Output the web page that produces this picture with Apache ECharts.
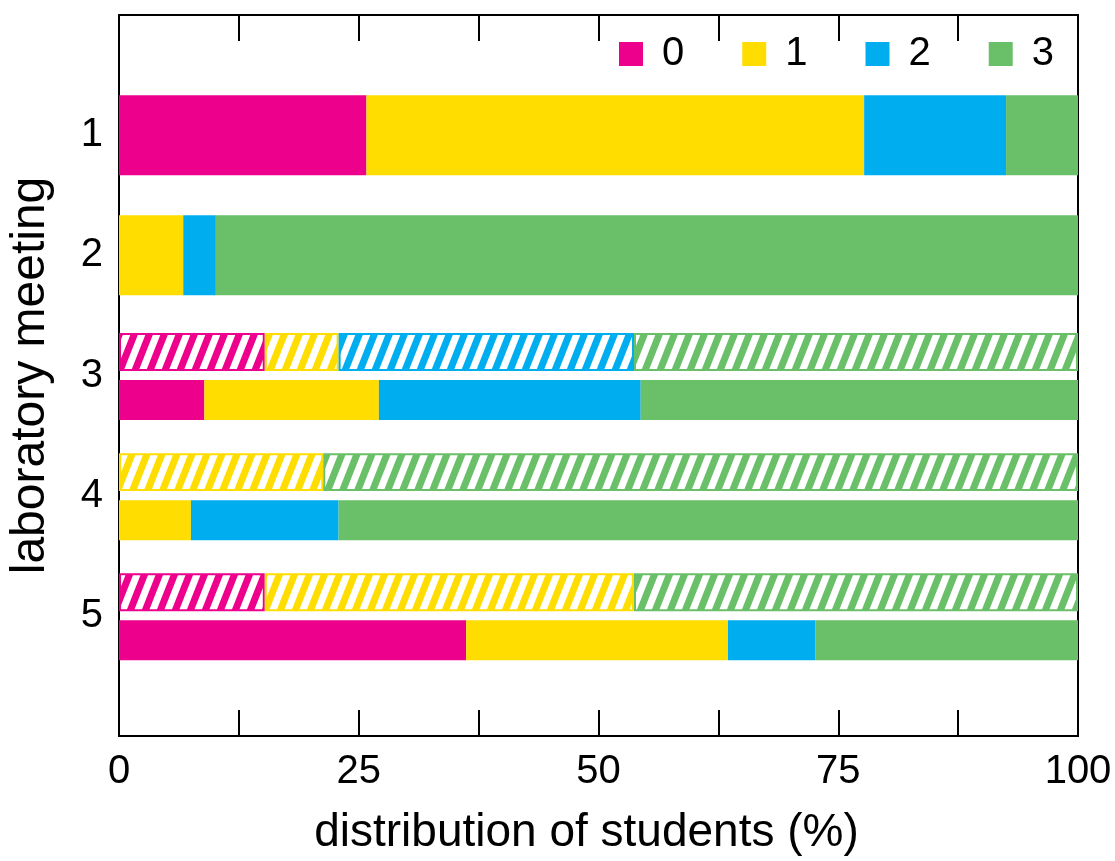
<!DOCTYPE html>
<html>
<head>
<meta charset="utf-8">
<script src="https://cdn.jsdelivr.net/npm/echarts@6/dist/echarts.min.js"></script>
<style>html,body{margin:0;padding:0;background:#fff}#main{width:1115px;height:861px}</style>
</head>
<body>
<div id="main"></div>
<script>
// ---- data ----
const meetings = [1, 2, 3, 4, 5];
const levelNames = ['0', '1', '2', '3'];
const levelColors = ['#EC008C', '#FFDD00', '#00AEEF', '#6ABF69'];
const xTickLabels = [0, 25, 50, 75, 100];
// solid bars (% of students per level, per meeting)
const level0 = [25.8, 0, 8.9, 0, 36.2];
const level1 = [51.9, 6.7, 18.2, 7.5, 27.3];
const level2 = [14.8, 3.4, 27.3, 15.4, 9.1];
const level3 = [7.5, 89.9, 45.6, 77.1, 27.4];
// hatched bars (only meetings 3-5)
const hatch0 = [null, null, 15.2, 0, 15.2];
const hatch1 = [null, null, 7.7, 21.3, 38.5];
const hatch2 = [null, null, 30.8, 0, 0];
const hatch3 = [null, null, 46.3, 78.7, 46.3];

const solidLevels = [level0, level1, level2, level3];
const hatchLevels = [hatch0, hatch1, hatch2, hatch3];

const FONT = "'Liberation Sans', Arial, Helvetica, sans-serif";

function makePattern(color) {
  const P = 15, H = 38, w = 7.5;
  const c = document.createElement('canvas');
  c.width = P; c.height = H;
  const ctx = c.getContext('2d');
  ctx.fillStyle = color;
  ctx.fillRect(0, 0, P, H);
  ctx.fillStyle = '#ffffff';
  for (let k = -2; k <= 1; k++) {
    const x0 = k * P;
    ctx.beginPath();
    ctx.moveTo(x0, H);
    ctx.lineTo(x0 + w, H);
    ctx.lineTo(x0 + w + P, 0);
    ctx.lineTo(x0 + P, 0);
    ctx.closePath();
    ctx.fill();
  }
  return { image: c, repeat: 'repeat' };
}
const patterns = levelColors.map(makePattern);

// build data items: [start, end, meeting, kind(0 solid,1 hatched), hasHatch]
const seriesData = levelNames.map(() => []);
meetings.forEach((m, i) => {
  const hasHatch = hatchLevels[0][i] !== null ? 1 : 0;
  let acc = 0;
  solidLevels.forEach((arr, L) => {
    const v = arr[i];
    if (v > 0) seriesData[L].push([acc, acc + v, m, 0, hasHatch]);
    acc += v;
  });
  if (hasHatch) {
    acc = 0;
    hatchLevels.forEach((arr, L) => {
      const v = arr[i];
      if (v > 0) seriesData[L].push([acc, acc + v, m, 1, hasHatch]);
      acc += v;
    });
  }
});

function renderItemFor(L) {
  return function (params, api) {
    const s = api.value(0), e = api.value(1), m = api.value(2);
    const kind = api.value(3), hasHatch = api.value(4);
    let yc, h;
    if (!hasHatch) { yc = m; h = 0.666; }
    else if (kind === 1) { yc = m - 0.196; h = 0.316; }
    else { yc = m + 0.204; h = 0.333; }
    const p0 = api.coord([s, yc - h / 2]);
    const p1 = api.coord([e, yc + h / 2]);
    const x = Math.min(p0[0], p1[0]), y = Math.min(p0[1], p1[1]);
    const wd = Math.abs(p1[0] - p0[0]), ht = Math.abs(p1[1] - p0[1]);
    if (kind === 1) {
      return {
        type: 'rect',
        shape: { x: x + 1, y: y + 1, width: wd - 2, height: ht - 2 },
        style: { fill: patterns[L], stroke: levelColors[L], lineWidth: 2 }
      };
    }
    return {
      type: 'rect',
      shape: { x: x, y: y, width: wd, height: ht },
      style: { fill: levelColors[L] }
    };
  };
}

const chart = echarts.init(document.getElementById('main'), null, { renderer: 'canvas' });
const xCommon = {
  type: 'value', min: 0, max: 100, interval: 12.5,
  splitLine: { show: false },
  axisLine: { show: true, onZero: false, lineStyle: { color: '#000', width: 2 } },
  axisTick: { show: true, inside: true, length: 26, lineStyle: { color: '#000', width: 2 } }
};
chart.setOption({
  backgroundColor: '#fff',
  animation: false,
  textStyle: { fontFamily: FONT },
  grid: { left: 119, right: 37, top: 15, bottom: 125, containLabel: false, outerBoundsMode: 'none',
          show: true, borderColor: '#000', borderWidth: 2, backgroundColor: 'transparent' },
  legend: {
    top: 29, left: 614,
    icon: 'rect', itemWidth: 24, itemHeight: 24, itemGap: 58,
    textStyle: { fontFamily: FONT, fontSize: 40, color: '#000', padding: [0, 0, 0, 14] },
    data: levelNames.map((n, i) => ({ name: n, itemStyle: { color: levelColors[i] } }))
  },
  xAxis: [
    Object.assign({}, xCommon, {
      position: 'bottom',
      name: 'distribution of students (%)', nameLocation: 'middle', nameGap: 74,
      nameTextStyle: { fontFamily: FONT, fontSize: 46, color: '#000', padding: [0, 24, 0, 0] },
      axisLabel: {
        fontFamily: FONT, fontSize: 40, color: '#000', margin: 16,
        formatter: v => (xTickLabels.indexOf(v) >= 0 ? String(v) : '')
      }
    }),
    Object.assign({}, xCommon, { position: 'top', axisLabel: { show: false } })
  ],
  yAxis: {
    type: 'value', min: 0, max: 6, interval: 1, inverse: true,
    splitLine: { show: false },
    axisLine: { show: true, onZero: false, lineStyle: { color: '#000', width: 2 } },
    axisTick: { show: false },
    name: 'laboratory meeting', nameLocation: 'middle', nameGap: 64,
    nameTextStyle: { fontFamily: FONT, fontSize: 48, color: '#000' },
    axisLabel: {
      fontFamily: FONT, fontSize: 40, color: '#000', margin: 16,
      formatter: v => (meetings.indexOf(v) >= 0 ? String(v) : '')
    }
  },
  series: levelNames.map((n, L) => ({
    name: n,
    type: 'custom',
    xAxisIndex: 0, yAxisIndex: 0,
    itemStyle: { color: levelColors[L] },
    encode: { x: [0, 1], y: 2 },
    renderItem: renderItemFor(L),
    data: seriesData[L]
  }))
});
</script>
</body>
</html>
